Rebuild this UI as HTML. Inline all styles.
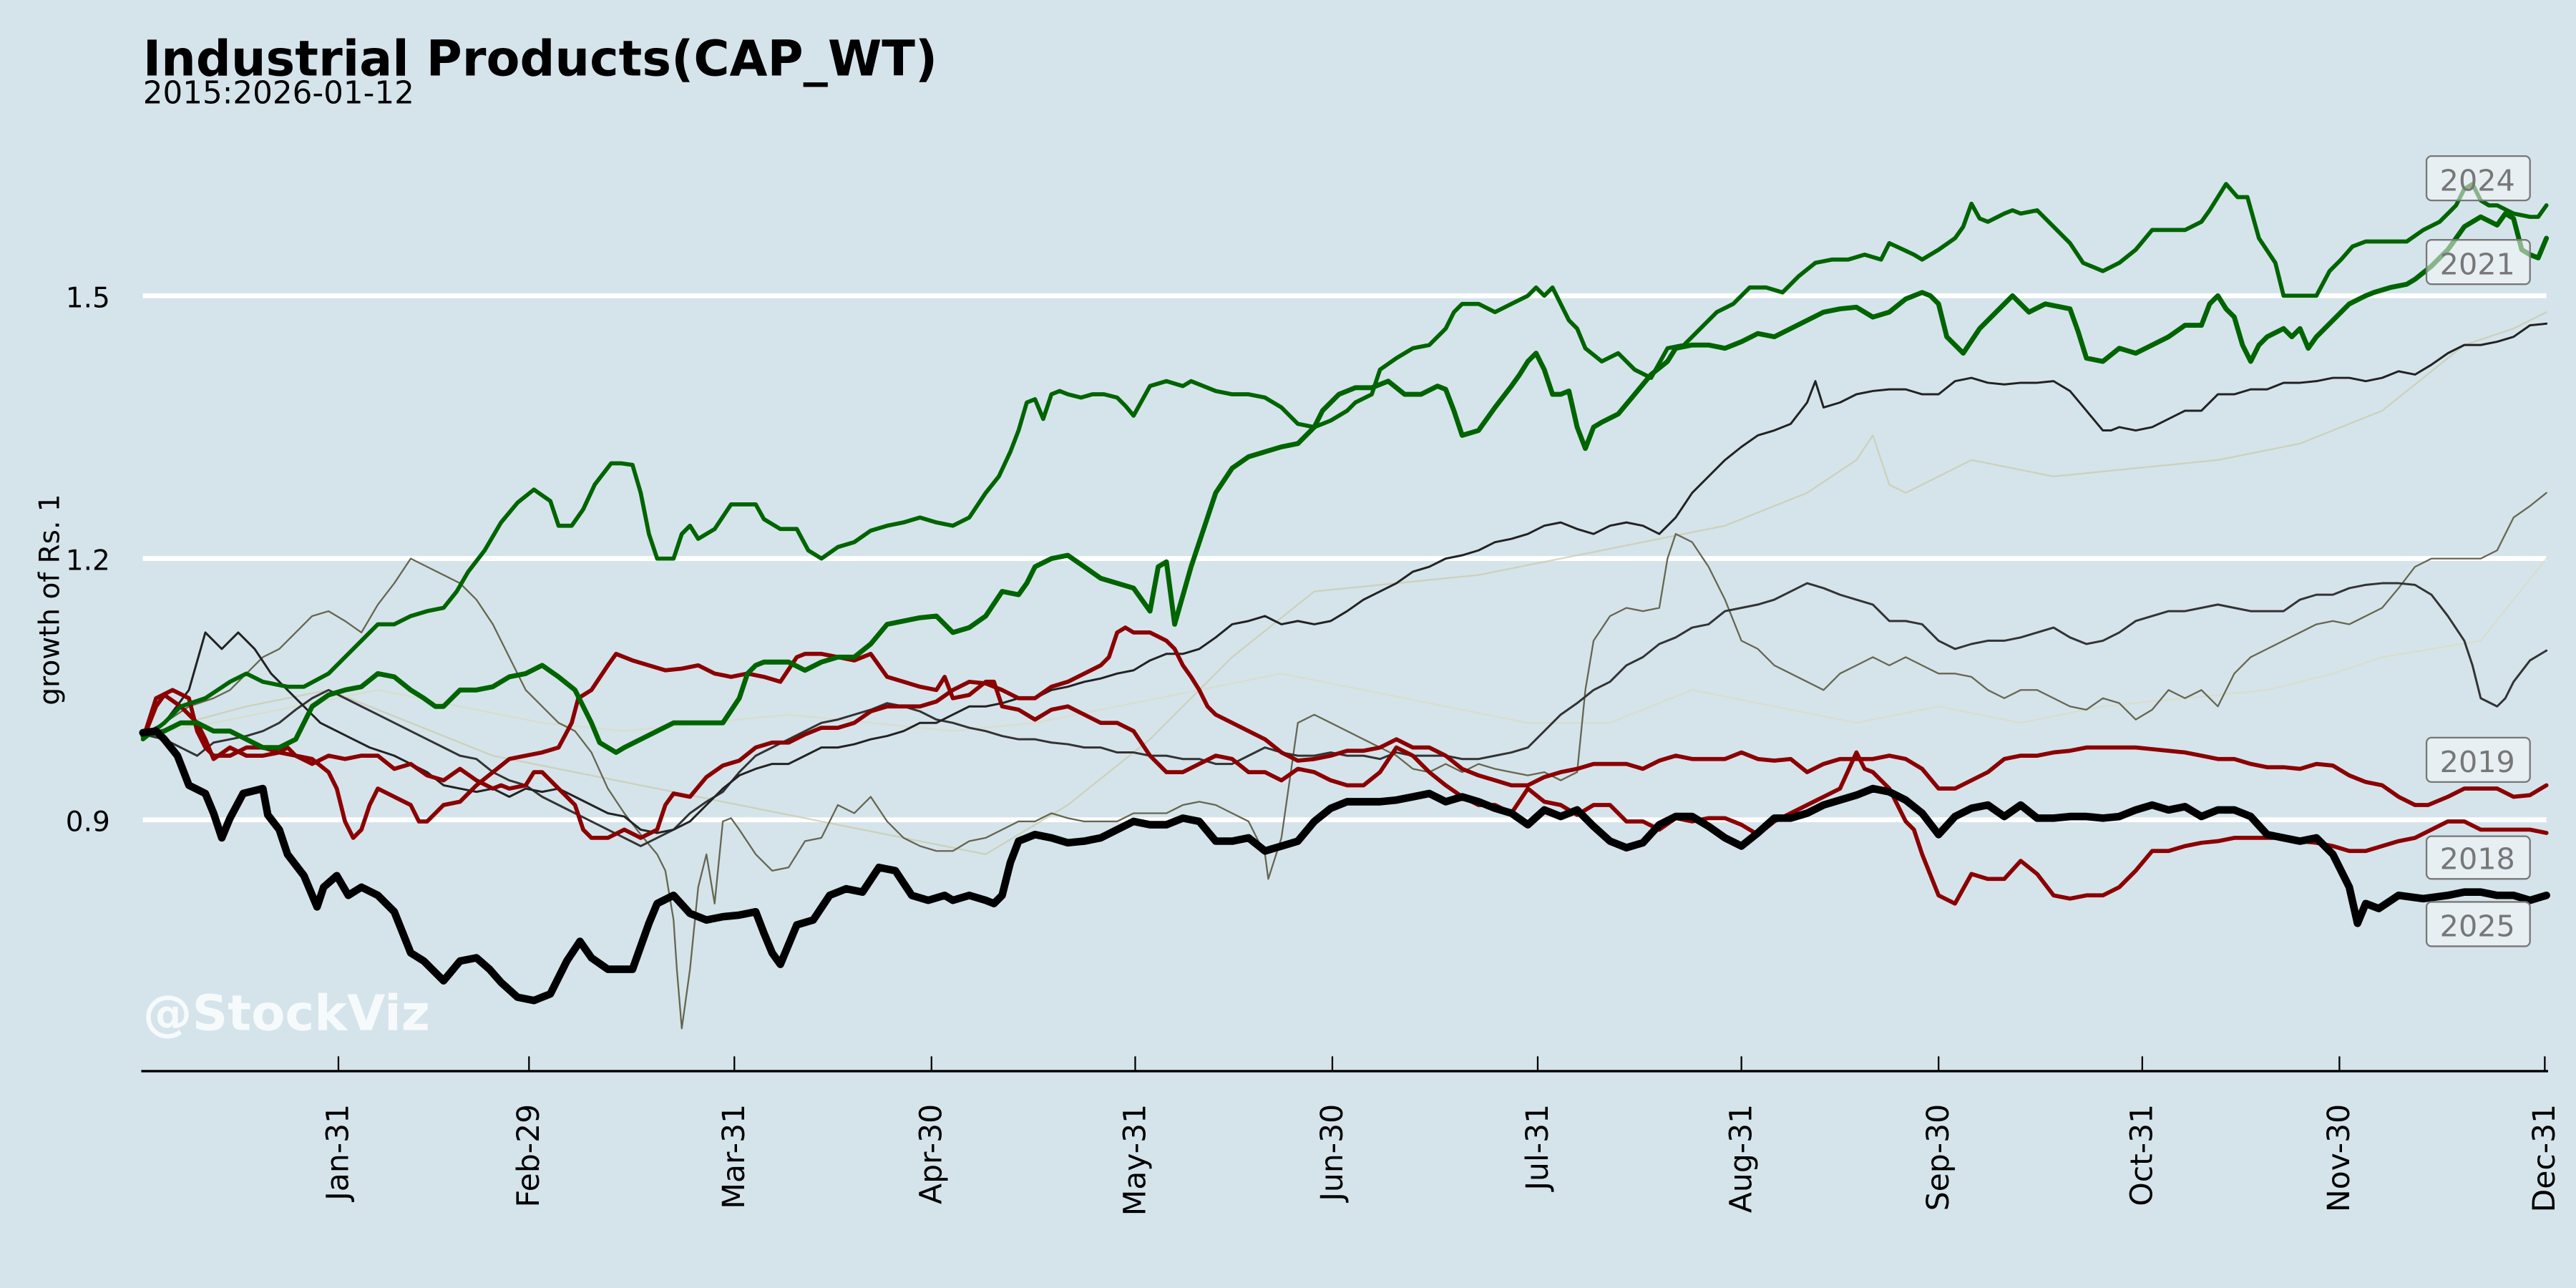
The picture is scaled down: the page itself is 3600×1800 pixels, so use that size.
<!DOCTYPE html>
<html><head><meta charset="utf-8"><style>
html,body{margin:0;padding:0;background:#d5e4eb;}
svg{display:block;}
text{font-family:"DejaVu Sans","Liberation Sans",sans-serif;}
</style></head><body>
<svg width="3600" height="1800" viewBox="0 0 1568 784" xmlns="http://www.w3.org/2000/svg">
<rect x="0" y="0" width="1568" height="784" fill="#d5e4eb"/>
<g stroke="#ffffff" stroke-width="3">
<line x1="87" y1="180" x2="1550" y2="180"/>
<line x1="87" y1="340" x2="1550" y2="340"/>
<line x1="87" y1="499" x2="1550" y2="499"/>
</g>
<text x="87" y="46" font-size="29.8" font-weight="bold" fill="#000">Industrial Products(CAP_WT)</text>
<text x="87" y="63" font-size="19" fill="#000">2015:2026-01-12</text>
<g font-size="17" fill="#000" text-anchor="end">
<text x="67" y="187">1.5</text><text x="67" y="347">1.2</text><text x="67" y="506">0.9</text>
</g>
<text transform="translate(36,365) rotate(-90)" font-size="17" text-anchor="middle">growth of Rs. 1</text>

<g fill="none" stroke-linejoin="round" stroke-linecap="round">
<polyline stroke="#c9c9a6" stroke-opacity="0.7" stroke-width="1" points="87,447 150,430 200,420 250,440 300,460 350,470 400,480 450,490 500,500 550,510 600,520 650,490 700,450 750,400 800,360 850,355 900,350 950,340 1000,330 1050,320 1100,300 1130,280 1140,265 1150,295 1160,300 1200,280 1250,290 1300,285 1350,280 1400,270 1450,250 1500,210 1530,200 1550,190"/>
<polyline stroke="#d8dcc0" stroke-opacity="0.7" stroke-width="1" points="87,447 130,440 180,430 230,420 280,430 330,440 380,445 430,440 480,435 530,440 580,445 630,440 680,430 730,420 780,410 830,420 880,430 930,440 980,440 1030,420 1080,430 1130,440 1180,430 1230,440 1280,430 1330,425 1380,420 1420,410 1450,400 1480,395 1510,390 1550,340"/>
<polyline stroke="#66664f" stroke-width="1" points="87,447 100,440 115,430 130,425 140,420 150,410 160,400 170,395 180,385 190,375 200,372 210,378 220,385 230,368 240,355 250,340 260,345 270,350 280,355 290,365 300,380 310,400 320,420 330,430 340,440 350,445 360,458 370,480 380,495 390,508 400,520 405,530 410,560 412,590 415,626 420,590 425,540 430,520 435,550 440,500 445,498 450,505 460,520 470,530 480,528 490,512 500,510 510,490 520,495 530,485 540,500 550,510 560,515 570,518 580,518 590,512 600,510 610,505 620,500 630,500 640,495 650,498 660,500 670,500 680,500 690,495 700,495 710,495 720,490 730,488 740,490 750,495 760,500 770,520 772,535 780,510 790,440 800,435 810,440 820,445 830,450 840,455 850,460 860,468 870,470 880,465 890,470 900,465 910,468 920,470 930,472 940,470 950,475 960,470 965,420 970,390 980,375 990,370 1000,372 1010,370 1015,340 1020,325 1030,330 1040,345 1050,365 1060,390 1070,395 1080,405 1090,410 1100,415 1110,420 1120,410 1130,405 1140,400 1150,405 1160,400 1170,405 1180,410 1190,410 1200,412 1210,420 1220,425 1230,420 1240,420 1250,425 1260,430 1270,432 1280,425 1290,428 1300,438 1310,432 1320,420 1330,425 1340,420 1350,430 1360,410 1370,400 1380,395 1390,390 1400,385 1410,380 1420,378 1430,380 1440,375 1450,370 1460,358 1470,345 1480,340 1490,340 1500,340 1510,340 1520,335 1530,315 1540,308 1550,300"/>
<polyline stroke="#333333" stroke-width="1.3" points="87,447 100,450 110,455 120,460 130,452 140,450 150,448 160,445 170,440 180,432 190,425 200,420 210,425 220,430 230,435 240,440 250,445 260,450 270,455 280,460 290,462 300,470 310,475 320,478 330,485 340,490 350,495 360,500 370,505 380,510 390,515 400,510 410,505 420,495 430,488 440,482 450,470 460,460 470,455 480,450 490,445 500,440 510,438 520,435 530,432 540,428 550,430 560,433 570,438 580,440 590,443 600,445 610,448 620,450 630,450 640,452 650,453 660,455 670,455 680,458 690,458 700,460 710,460 720,462 730,462 740,465 750,465 760,460 770,455 780,458 790,460 800,460 810,458 820,460 830,460 840,462 850,458 860,460 870,460 880,460 890,462 900,462 910,460 920,458 930,455 940,445 950,435 960,428 970,420 980,415 990,405 1000,400 1010,392 1020,388 1030,382 1040,380 1050,372 1060,370 1070,368 1080,365 1090,360 1100,355 1110,358 1120,362 1130,365 1140,368 1150,378 1160,378 1170,380 1180,390 1190,395 1200,392 1210,390 1220,390 1230,388 1240,385 1250,382 1260,388 1270,392 1280,390 1290,385 1300,378 1310,375 1320,372 1330,372 1340,370 1350,368 1360,370 1370,372 1380,372 1390,372 1400,365 1410,362 1420,362 1430,358 1440,356 1450,355 1460,355 1470,356 1480,362 1490,375 1500,390 1505,405 1510,425 1520,430 1525,425 1530,415 1540,402 1550,396"/>
<polyline stroke="#222222" stroke-width="1.3" points="87,447 100,440 115,420 125,385 135,395 145,385 155,395 165,410 175,420 185,430 195,440 205,445 215,450 225,455 240,460 250,465 260,470 270,478 280,480 290,482 300,480 310,485 320,480 330,482 340,480 350,485 360,490 370,495 380,497 390,505 400,507 410,505 420,500 430,490 440,480 450,472 460,468 470,465 480,465 490,460 500,455 510,455 520,453 530,450 540,448 550,445 560,440 570,440 580,435 590,430 600,430 610,428 620,425 630,425 640,420 650,418 660,415 670,413 680,410 690,408 700,402 710,398 720,398 730,395 740,388 750,380 760,378 770,375 780,380 790,378 800,380 810,378 820,372 830,365 840,360 850,355 860,348 870,345 880,340 890,338 900,335 910,330 920,328 930,325 940,320 950,318 960,322 970,325 980,320 990,318 1000,320 1010,325 1020,315 1030,300 1040,290 1050,280 1060,272 1070,265 1080,262 1090,258 1100,245 1105,232 1110,248 1120,245 1130,240 1140,238 1150,237 1160,237 1170,240 1180,240 1190,232 1200,230 1210,233 1220,234 1230,233 1240,233 1250,232 1260,238 1270,250 1280,262 1285,262 1290,260 1300,262 1310,260 1320,255 1330,250 1340,250 1350,240 1360,240 1370,237 1380,237 1390,233 1400,233 1410,232 1420,230 1430,230 1440,232 1450,230 1460,226 1470,228 1480,222 1490,215 1500,210 1510,210 1520,208 1530,205 1540,198 1550,197"/>
<polyline stroke="#8b0000" stroke-width="2.5" points="87,450 95,430 100,423 110,430 120,440 125,450 130,462 140,455 150,460 160,460 170,458 180,460 190,465 200,460 210,462 220,460 230,460 240,468 250,465 260,472 270,475 280,468 290,475 300,480 305,478 310,480 320,478 325,470 330,470 340,480 350,490 355,505 360,510 370,510 380,505 390,510 400,505 405,490 410,483 420,485 430,473 440,466 450,463 460,455 470,452 480,452 490,447 500,443 510,443 520,440 530,433 540,430 550,430 560,430 570,427 580,420 590,415 600,416 610,420 620,425 630,425 640,418 650,415 660,410 670,405 675,400 680,385 685,382 690,385 700,385 710,390 715,395 720,405 725,412 730,420 735,430 740,435 750,440 760,445 770,450 780,458 790,463 800,462 810,460 820,457 830,457 840,455 850,450 860,455 870,455 880,460 890,468 900,472 910,475 920,478 930,478 940,473 950,470 960,468 970,465 980,465 990,465 1000,468 1010,463 1020,460 1030,462 1040,462 1050,462 1060,458 1070,462 1080,463 1090,462 1100,470 1110,465 1120,462 1130,462 1140,462 1150,460 1160,462 1170,468 1180,480 1190,480 1200,475 1210,470 1220,462 1230,460 1240,460 1250,458 1260,457 1270,455 1280,455 1290,455 1300,455 1310,456 1320,457 1330,458 1340,460 1350,462 1360,462 1370,465 1380,467 1390,467 1400,468 1410,465 1420,466 1430,472 1440,476 1450,478 1460,485 1470,490 1478,490 1490,485 1500,480 1510,480 1520,480 1530,485 1540,484 1550,478"/>
<polyline stroke="#8b0000" stroke-width="2.5" points="87,450 95,425 105,420 115,425 120,445 125,455 130,460 140,460 150,455 160,455 170,458 175,455 180,460 190,462 200,470 205,480 210,500 215,510 220,505 225,490 230,480 240,485 250,490 255,500 260,500 270,490 280,488 290,478 300,470 310,462 320,460 330,458 340,455 348,440 352,425 360,420 370,405 375,398 385,402 395,405 405,408 415,407 425,405 435,410 445,412 455,410 465,412 475,415 485,400 490,398 500,398 510,400 520,402 530,398 540,412 550,415 560,418 570,420 575,412 580,425 590,423 600,415 605,415 610,430 620,432 630,438 640,432 650,430 660,435 670,440 680,440 690,445 700,460 710,470 720,470 730,465 740,460 750,462 760,470 770,470 780,475 790,468 800,470 810,475 820,478 830,478 840,470 850,455 860,460 870,470 880,478 890,485 900,490 910,490 920,495 930,480 940,488 950,490 960,496 970,490 980,490 990,500 1000,500 1010,505 1020,498 1030,500 1040,498 1050,498 1060,502 1070,508 1080,500 1090,495 1100,490 1110,485 1120,480 1130,458 1135,468 1140,470 1150,480 1160,500 1165,505 1170,520 1180,545 1190,550 1200,532 1210,535 1220,535 1230,524 1240,532 1250,545 1260,547 1270,545 1280,545 1290,540 1300,530 1310,518 1320,518 1330,515 1340,513 1350,512 1360,510 1370,510 1380,510 1390,510 1400,512 1410,513 1420,515 1430,518 1440,518 1450,515 1460,512 1470,510 1480,505 1490,500 1500,500 1510,505 1520,505 1530,505 1540,505 1550,507"/>
<polyline stroke="#006400" stroke-width="2.5" points="87,450 100,440 110,430 125,425 140,415 150,410 160,415 175,418 185,418 200,410 210,400 215,395 225,385 230,380 240,380 250,375 260,372 270,370 278,360 285,348 295,335 305,318 315,306 325,298 335,305 340,320 348,320 355,310 362,295 372,282 378,282 385,283 390,300 395,325 400,340 410,340 415,325 420,320 425,328 435,322 445,307 460,307 465,316 475,322 485,322 492,335 500,340 510,333 520,330 530,323 540,320 550,318 560,315 570,318 580,320 590,315 600,300 608,290 615,275 620,262 625,245 630,243 635,255 640,240 645,238 650,240 658,242 665,240 672,240 680,242 685,247 690,253 700,235 710,232 720,235 725,232 740,238 750,240 760,240 770,242 780,248 790,258 800,260 810,256 820,250 825,245 835,240 840,225 850,218 860,212 870,210 880,200 885,190 890,185 900,185 910,190 920,185 930,180 935,175 940,180 945,175 950,185 955,195 960,200 965,212 975,220 985,215 995,225 1005,230 1015,212 1025,210 1035,200 1045,190 1055,185 1065,175 1075,175 1085,178 1095,168 1105,160 1115,158 1125,158 1135,155 1145,158 1150,148 1165,155 1170,158 1180,152 1190,145 1195,138 1200,124 1205,133 1210,135 1220,130 1225,128 1230,130 1240,128 1250,138 1260,148 1268,160 1280,165 1290,160 1300,152 1310,140 1320,140 1330,140 1340,135 1345,128 1350,120 1355,112 1362,120 1368,120 1375,145 1385,160 1390,180 1400,180 1410,180 1418,165 1425,158 1432,150 1440,147 1455,147 1465,147 1475,140 1485,135 1495,125 1500,115 1505,112 1510,122 1515,125 1520,125 1530,130 1540,132 1545,132 1550,125"/>
<polyline stroke="#006400" stroke-width="3" points="87,448 100,445 110,440 120,440 130,445 140,445 150,450 160,455 170,455 180,450 190,430 200,423 210,420 220,418 230,410 240,412 250,420 258,425 265,430 270,430 280,420 290,420 300,418 310,412 320,410 330,405 340,412 350,420 355,430 360,440 365,452 370,455 375,458 380,455 390,450 400,445 410,440 420,440 430,440 440,440 450,425 455,410 460,405 465,403 480,403 490,408 500,403 510,400 520,400 530,392 540,380 550,378 560,376 570,375 575,380 580,385 590,382 600,375 610,360 620,362 625,355 630,345 640,340 650,338 660,345 670,352 680,355 690,358 695,365 700,372 705,345 710,342 715,380 725,345 735,315 740,300 750,285 760,278 770,275 780,272 790,270 800,260 805,250 815,240 825,236 835,236 845,232 855,240 865,240 875,235 880,237 885,250 890,265 900,262 910,248 920,235 925,228 930,220 935,215 940,225 945,240 950,240 955,238 960,260 965,273 970,260 975,257 985,252 995,240 1005,228 1015,220 1020,212 1030,210 1040,210 1050,212 1060,208 1070,203 1080,205 1090,200 1100,195 1110,190 1120,188 1130,187 1140,193 1150,190 1160,182 1170,178 1175,180 1180,185 1185,205 1195,215 1205,200 1215,190 1225,180 1235,190 1245,185 1260,188 1265,202 1270,218 1280,220 1290,212 1300,215 1310,210 1320,205 1330,198 1340,198 1345,185 1350,180 1355,188 1360,193 1365,210 1370,220 1375,210 1380,205 1390,200 1395,205 1400,200 1405,212 1410,205 1420,195 1430,185 1440,180 1445,178 1455,175 1465,173 1470,170 1480,162 1490,152 1500,138 1510,132 1520,137 1525,130 1530,133 1535,152 1540,155 1545,157 1550,145"/>
<polyline stroke="#000000" stroke-width="4.6" points="87,446 95,445 100,450 108,460 115,478 125,483 130,495 135,510 140,498 148,483 160,480 163,496 170,505 175,520 185,533 193,552 197,540 205,533 212,545 220,540 230,545 240,555 250,580 258,585 265,592 270,597 280,585 290,583 298,590 305,598 315,607 325,609 335,605 345,585 353,573 360,583 370,590 385,590 395,562 400,550 410,545 420,556 430,560 440,558 450,557 460,555 465,568 470,580 475,587 480,575 485,563 495,560 505,545 515,541 525,543 535,528 545,530 555,545 565,548 575,545 580,548 590,545 600,548 605,550 610,545 615,525 620,512 630,508 640,510 650,513 660,512 670,510 680,505 690,500 700,502 710,502 720,498 730,500 740,512 750,512 760,510 770,518 780,515 790,512 800,500 810,492 820,488 830,488 840,488 850,487 860,485 870,483 880,488 890,485 900,488 910,492 920,495 930,502 940,493 950,497 960,493 970,503 980,512 990,516 1000,513 1010,502 1020,497 1030,497 1040,503 1050,510 1060,515 1070,507 1080,498 1090,498 1100,495 1110,490 1120,487 1130,484 1140,480 1150,482 1160,487 1170,495 1180,508 1190,497 1200,492 1210,490 1220,497 1230,490 1240,498 1250,498 1260,497 1270,497 1280,498 1290,497 1300,493 1310,490 1320,493 1330,491 1340,497 1350,493 1360,493 1370,497 1380,508 1390,510 1400,512 1410,510 1420,520 1430,540 1435,562 1440,550 1448,553 1460,545 1475,547 1490,545 1500,543 1510,543 1520,545 1530,545 1540,548 1550,545"/>
</g>

<g font-size="18" fill="#777" text-anchor="middle">
<rect x="1477" y="95" width="63" height="27" rx="3" fill="#f5f8fa" fill-opacity="0.55" stroke="#777" stroke-width="1"/>
<text x="1508" y="116">2024</text>
<rect x="1477" y="146" width="63" height="27" rx="3" fill="#f5f8fa" fill-opacity="0.55" stroke="#777" stroke-width="1"/>
<text x="1508" y="167">2021</text>
<rect x="1477" y="449" width="63" height="27" rx="3" fill="#f5f8fa" fill-opacity="0.55" stroke="#777" stroke-width="1"/>
<text x="1508" y="470">2019</text>
<rect x="1477" y="509" width="63" height="26" rx="3" fill="#f5f8fa" fill-opacity="0.55" stroke="#777" stroke-width="1"/>
<text x="1508" y="529">2018</text>
<rect x="1477" y="549" width="63" height="27" rx="3" fill="#f5f8fa" fill-opacity="0.55" stroke="#777" stroke-width="1"/>
<text x="1508" y="570">2025</text>
</g>

<text x="87" y="627" font-size="30" font-weight="bold" fill="#ffffff" fill-opacity="0.8">@StockViz</text>

<line x1="86" y1="652" x2="1551" y2="652" stroke="#000" stroke-width="1.5"/>
<g stroke="#000" stroke-width="1">
<line x1="206" y1="643" x2="206" y2="652"/><line x1="322" y1="643" x2="322" y2="652"/>
<line x1="447" y1="643" x2="447" y2="652"/><line x1="567" y1="643" x2="567" y2="652"/>
<line x1="691" y1="643" x2="691" y2="652"/><line x1="811" y1="643" x2="811" y2="652"/>
<line x1="936" y1="643" x2="936" y2="652"/><line x1="1060" y1="643" x2="1060" y2="652"/>
<line x1="1180" y1="643" x2="1180" y2="652"/><line x1="1304" y1="643" x2="1304" y2="652"/>
<line x1="1424" y1="643" x2="1424" y2="652"/><line x1="1549" y1="643" x2="1549" y2="652"/>
</g>
<g font-size="18.5" fill="#000" text-anchor="end">
<text transform="translate(212,672) rotate(-90)">Jan-31</text>
<text transform="translate(328,672) rotate(-90)">Feb-29</text>
<text transform="translate(453,672) rotate(-90)">Mar-31</text>
<text transform="translate(573,672) rotate(-90)">Apr-30</text>
<text transform="translate(697,672) rotate(-90)">May-31</text>
<text transform="translate(817,672) rotate(-90)">Jun-30</text>
<text transform="translate(942,672) rotate(-90)">Jul-31</text>
<text transform="translate(1066,672) rotate(-90)">Aug-31</text>
<text transform="translate(1186,672) rotate(-90)">Sep-30</text>
<text transform="translate(1310,672) rotate(-90)">Oct-31</text>
<text transform="translate(1430,672) rotate(-90)">Nov-30</text>
<text transform="translate(1555,672) rotate(-90)">Dec-31</text>
</g>
</svg>
</body></html>
